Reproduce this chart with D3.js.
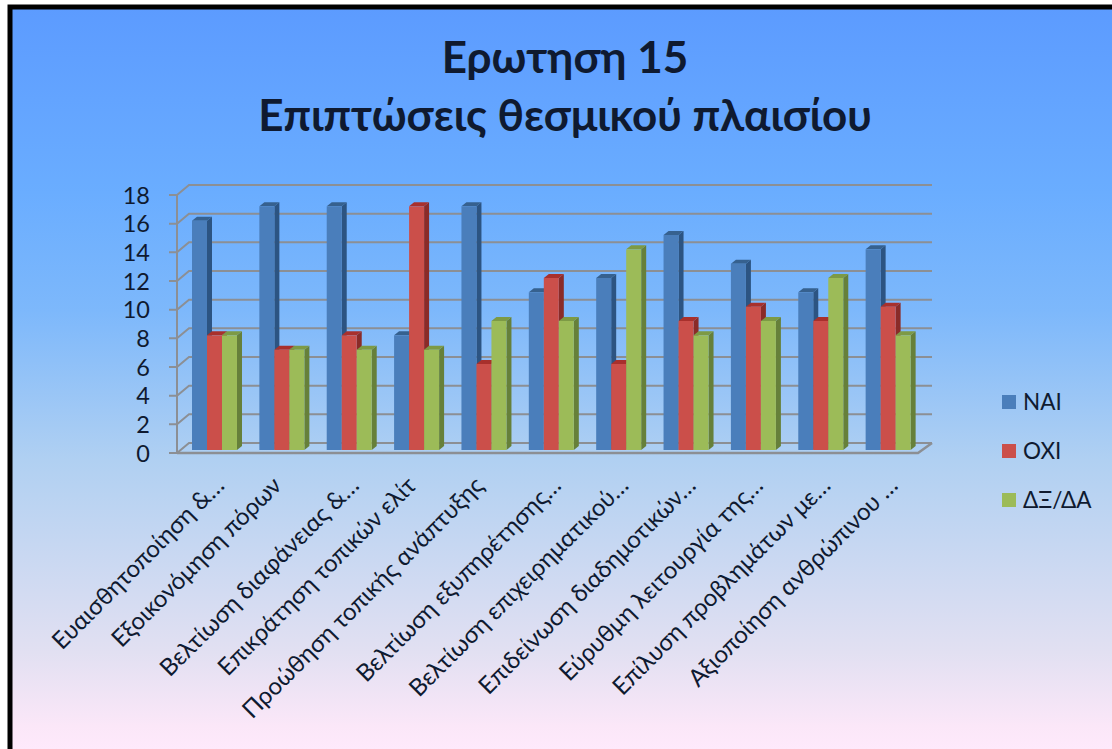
<!DOCTYPE html>
<html lang="el">

<head>
  <meta charset="UTF-8">
  <title>Ερωτηση 15</title>
  <script src="https://d3js.org/d3.v7.min.js"></script>
  <style>
    html, body { margin: 0; padding: 0; background: #fff; }
    svg { display: block; }
    text { font-family: "Lato", "Noto Sans", sans-serif; fill: #0f1a30; }
  </style>
</head>

<body>
  <div id="chart"></div>

  <script>
    const categories = [
      "Ευαισθητοποίηση &…", "Εξοικονόμηση πόρων", "Βελτίωση διαφάνειας &…",
      "Επικράτηση τοπικών ελίτ", "Προώθηση τοπικής ανάπτυξης", "Βελτίωση εξυπηρέτησης…",
      "Βελτίωση επιχειρηματικού…", "Επιδείνωση διαδημοτικών…", "Εύρυθμη λειτουργία της…",
      "Επίλυση προβλημάτων με…", "Αξιοποίηση ανθρώπινου …"
    ];
    const seriesNames = ["ΝΑΙ", "ΌΧΙ", "ΔΞ/ΔΑ"];
    const nai = [16, 17, 17, 8, 17, 11, 12, 15, 13, 11, 14];
    const oxi = [8, 7, 8, 17, 6, 12, 6, 9, 10, 9, 10];
    const dxda = [8, 7, 7, 7, 9, 9, 14, 8, 9, 12, 8];
    const yTicks = [0, 2, 4, 6, 8, 10, 12, 14, 16, 18];
    const titleLines = ["Ερωτηση 15", "Επιπτώσεις θεσμικού πλαισίου"];

    const seriesValues = [nai, oxi, dxda];
    const front = ["#4a7ebb", "#cb4f4a", "#9cbb58"];
    const side = ["#2c5482", "#8a2b28", "#66803a"];
    const topc = ["#36618f", "#a8302c", "#7d9a45"];

    const W = 1112, H = 749;
    const svg = d3.select("#chart").append("svg").attr("width", W).attr("height", H);

    // background gradient
    const grad = svg.append("defs").append("linearGradient")
      .attr("id", "bg").attr("gradientUnits", "userSpaceOnUse")
      .attr("x1", 0).attr("y1", 7).attr("x2", 0).attr("y2", H);
    [[0, "#5c9bff"], [0.25, "#6aadff"], [0.41, "#7db8fb"], [0.61, "#b0d0f2"],
     [0.87, "#e2e0f2"], [0.97, "#fbe7f8"], [1, "#fee9fb"]].forEach(s => {
      grad.append("stop").attr("offset", s[0]).attr("stop-color", s[1]);
    });

    svg.append("rect").attr("x", 10).attr("y", 7).attr("width", W + 20).attr("height", H + 20)
      .attr("fill", "url(#bg)").attr("stroke", "#000").attr("stroke-width", 5);

    svg.selectAll(".title").data(titleLines).enter().append("text")
      .attr("class", "title")
      .attr("x", 565)
      .attr("y", (d, i) => 73 + i * 58)
      .attr("text-anchor", "middle")
      .attr("font-weight", 700)
      .attr("font-size", 44)
      .text(d => d);

    // scales
    const y = d3.scaleLinear().domain([0, 18]).range([453, 195]);
    const x = d3.scaleBand().domain(categories).range([177, 918]).padding(0);
    const xs = d3.scaleBand().domain(seriesNames).range([15, 60]);

    const dx = 12, dy = -10; // wall depth
    const gridColor = "#8c8f94";
    const grid = svg.append("g");
    yTicks.forEach(t => {
      const ty = y(t);
      grid.append("path")
        .attr("d", `M${x.range()[0] - 8},${ty}H${x.range()[0]}l${dx},${dy}H${x.range()[1] + dx + 2}`)
        .attr("fill", "none").attr("stroke", gridColor).attr("stroke-width", 2);
    });
    grid.append("path")
      .attr("d", `M${x.range()[0]},${y(0)}V${y(18)}`)
      .attr("stroke", gridColor).attr("stroke-width", 2);
    grid.append("path")
      .attr("d", `M${x.range()[0]},${y(0)}H${x.range()[1]}l${dx + 2},${dy}`)
      .attr("fill", "none").attr("stroke", gridColor).attr("stroke-width", 2.5);

    svg.append("g").selectAll("text").data(yTicks).enter().append("text")
      .attr("x", 150).attr("y", d => y(d) + 8.5)
      .attr("text-anchor", "end").attr("font-size", 23.5)
      .text(d => d);

    // 3D bars: side, top, front
    const dep = 5, depY = 4, lift = 3;
    categories.forEach((c, ci) => {
      const g = svg.append("g").attr("transform", `translate(${x(c)},0)`);
      seriesNames.forEach((s, si) => {
        const v = seriesValues[si][ci];
        const bx = xs(s), bw = xs.bandwidth();
        const top = y(v) - lift, bot = y(0) - lift;
        g.append("path")
          .attr("d", `M${bx + bw},${top}l${dep},${-depY}V${bot - depY}L${bx + bw},${bot}Z`)
          .attr("fill", side[si]);
        g.append("path")
          .attr("d", `M${bx},${top}l${dep},${-depY}h${bw}l${-dep},${depY}Z`)
          .attr("fill", topc[si]);
        g.append("rect")
          .attr("x", bx).attr("y", top).attr("width", bw).attr("height", bot - top)
          .attr("fill", front[si]);
      });
    });

    // category labels
    svg.append("g").selectAll("text").data(categories).enter().append("text")
      .attr("transform", d => `translate(${x(d) + x.bandwidth() / 2 + 5 + (d.endsWith("…") ? 10 : 0)},${487}) rotate(-45)`)
      .attr("text-anchor", "end")
      .attr("font-size", 24)
      .text(d => d);

    // legend
    const legend = svg.append("g").selectAll("g").data(seriesNames).enter().append("g")
      .attr("transform", (d, i) => `translate(1002,${395 + i * 49})`);
    legend.append("rect").attr("width", 14).attr("height", 14)
      .attr("fill", (d, i) => front[i]);
    legend.append("text").attr("x", 21).attr("y", 15)
      .attr("font-size", 22.5).text(d => d);
  </script>
</body>

</html>
